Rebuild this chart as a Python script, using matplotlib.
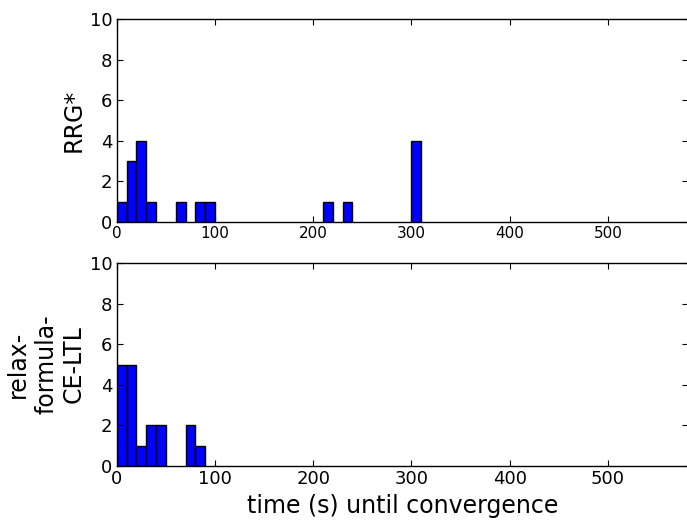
"""
Convergence time histograms for RRG* and relax-formula-CE-LTL.
"""

import matplotlib
matplotlib.use("Agg")
import matplotlib.pyplot as plt

# bin start (s) and count per 10 s bin
RRG_BINS = [0, 10, 20, 30, 60, 80, 90, 210, 230, 300]
RRG_COUNTS = [1, 3, 4, 1, 1, 1, 1, 1, 1, 4]

RELAX_BINS = [0, 10, 20, 30, 40, 70, 80]
RELAX_COUNTS = [5, 5, 1, 2, 2, 2, 1]

BIN_WIDTH = 10
X_TICKS = [0, 100, 200, 300, 400, 500]
Y_TICKS = [0, 2, 4, 6, 8, 10]

plt.rcParams["xtick.direction"] = "in"
plt.rcParams["ytick.direction"] = "in"
plt.rcParams["xtick.top"] = True
plt.rcParams["ytick.right"] = True
plt.rcParams["xtick.major.size"] = 4
plt.rcParams["ytick.major.size"] = 4
plt.rcParams["axes.linewidth"] = 1.0


def draw_hist(ax, bins, counts, label, xtick_size):
    ax.bar(bins, counts, width=BIN_WIDTH, align="edge",
           color="#0000ff", edgecolor="black", linewidth=1.0)
    ax.set_xlim(0, 582)
    ax.set_ylim(0, 10)
    ax.set_xticks(X_TICKS)
    ax.set_yticks(Y_TICKS)
    ax.tick_params(axis="x", labelsize=xtick_size, pad=3)
    ax.tick_params(axis="y", labelsize=13, pad=3)
    ax.set_ylabel(label, fontsize=17, labelpad=3)


fig = plt.figure(figsize=(6.87, 5.2), dpi=100)
ax_top = fig.add_axes([0.170, 0.573, 0.832, 0.390])
ax_bot = fig.add_axes([0.170, 0.104, 0.832, 0.390])

draw_hist(ax_top, RRG_BINS, RRG_COUNTS, "RRG*", 11)
draw_hist(ax_bot, RELAX_BINS, RELAX_COUNTS, "relax-\nformula-\nCE-LTL", 13)
ax_bot.set_xlabel("time (s) until convergence", fontsize=17, labelpad=4)

plt.savefig("out.png", dpi=100)
plt.close(fig)
